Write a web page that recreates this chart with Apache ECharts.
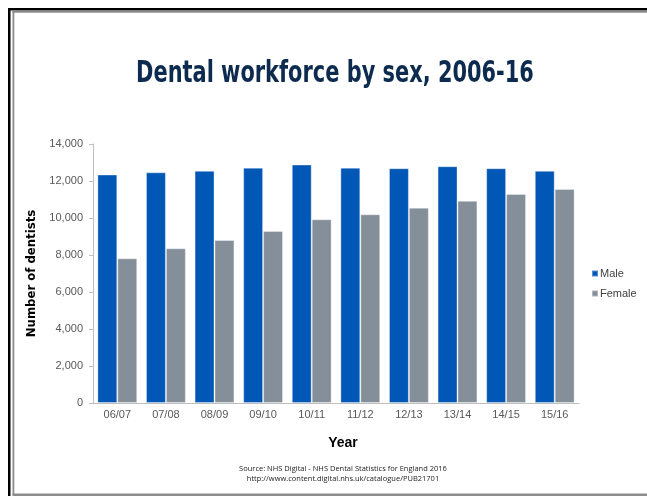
<!DOCTYPE html>
<html>
<head>
<meta charset="utf-8">
<script src="https://cdn.jsdelivr.net/npm/echarts@6/dist/echarts.min.js"></script>
<style>
  html, body { margin: 0; padding: 0; background: #fff; }
  #chart { width: 647px; height: 496px; }
</style>
</head>
<body>
<div id="chart"></div>
<script>
const years = ['06/07', '07/08', '08/09', '09/10', '10/11', '11/12', '12/13', '13/14', '14/15', '15/16'];
const male = [12350, 12470, 12550, 12720, 12890, 12720, 12690, 12800, 12690, 12550];
const female = [7820, 8360, 8810, 9300, 9930, 10200, 10560, 10930, 11300, 11570];

const chart = echarts.init(document.getElementById('chart'));

const barBorder = 'rgba(255,255,255,0.35)';

chart.setOption({
  animation: false,
  textStyle: { fontFamily: 'Liberation Sans, Arial, sans-serif' },
  grid: { left: 93, right: 68, top: 144, bottom: 93 },
  legend: {
    orient: 'vertical',
    left: 586,
    top: 263,
    itemWidth: 6,
    itemHeight: 6,
    itemGap: 9,
    icon: 'rect',
    textStyle: { color: '#404040', fontSize: 11, padding: [0, 0, 0, -3] },
    data: ['Male', 'Female']
  },
  xAxis: {
    type: 'category',
    data: years,
    name: 'Year',
    nameLocation: 'middle',
    nameGap: 33,
    nameTextStyle: { color: '#000', fontSize: 14, fontWeight: 'bold', padding: [0, 0, 0, 14] },
    axisLine: { lineStyle: { color: '#bfbfbf' } },
    axisTick: { lineStyle: { color: '#bfbfbf' }, length: 4 },
    axisLabel: { color: '#595959', fontSize: 11, margin: 6 }
  },
  yAxis: {
    type: 'value',
    min: 0,
    max: 14000,
    interval: 2000,
    name: 'Number of dentists',
    nameLocation: 'middle',
    nameGap: 55,
    nameTextStyle: {
      color: '#000', fontSize: 13, fontWeight: 'bold',
      fontFamily: 'DejaVu Sans Condensed, sans-serif'
    },
    splitLine: { show: false },
    axisLine: { show: true, lineStyle: { color: '#bfbfbf' } },
    axisTick: { show: true, length: 4, lineStyle: { color: '#bfbfbf' } },
    axisLabel: {
      color: '#595959', fontSize: 11, margin: 10,
      formatter: v => v.toLocaleString('en-US')
    }
  },
  series: [
    {
      name: 'Male',
      type: 'bar',
      data: male,
      barGap: '0%',
      barCategoryGap: '18%',
      itemStyle: { color: '#0057b5', borderColor: barBorder, borderWidth: 1 }
    },
    {
      name: 'Female',
      type: 'bar',
      data: female,
      itemStyle: { color: '#848f9a', borderColor: barBorder, borderWidth: 1 }
    }
  ],
  graphic: [
    // outer frame
    { type: 'rect', shape: { x: 8, y: 8, width: 647, height: 2.5 }, style: { fill: '#000' }, silent: true },
    { type: 'rect', shape: { x: 8, y: 8, width: 2.5, height: 488 }, style: { fill: '#000' }, silent: true },
    { type: 'rect', shape: { x: 12.5, y: 11, width: 640, height: 1.8 }, style: { fill: '#8c8c8c' }, silent: true },
    { type: 'rect', shape: { x: 12.5, y: 11, width: 1.8, height: 484 }, style: { fill: '#8c8c8c' }, silent: true },
    { type: 'rect', shape: { x: 12.5, y: 493.5, width: 640, height: 2.5 }, style: { fill: '#8c8c8c' }, silent: true },
    {
      type: 'text',
      x: 335,
      y: 74,
      scaleX: 0.75,
      style: {
        text: 'Dental workforce by sex, 2006-16',
        fill: '#0d2a4f',
        font: 'bold 31px "DejaVu Sans Condensed", sans-serif',
        align: 'center',
        verticalAlign: 'middle'
      },
      silent: true
    },
    {
      type: 'text',
      x: 343,
      y: 469,
      style: {
        text: 'Source: NHS Digital - NHS Dental Statistics for England 2016',
        fill: '#222',
        font: '7.5px "Open Sans", sans-serif',
        align: 'center',
        verticalAlign: 'middle'
      },
      silent: true
    },
    {
      type: 'text',
      x: 343,
      y: 479,
      style: {
        text: 'http://www.content.digital.nhs.uk/catalogue/PUB21701',
        fill: '#222',
        font: '7.5px "Open Sans", sans-serif',
        align: 'center',
        verticalAlign: 'middle'
      },
      silent: true
    }
  ]
});
</script>
</body>
</html>
